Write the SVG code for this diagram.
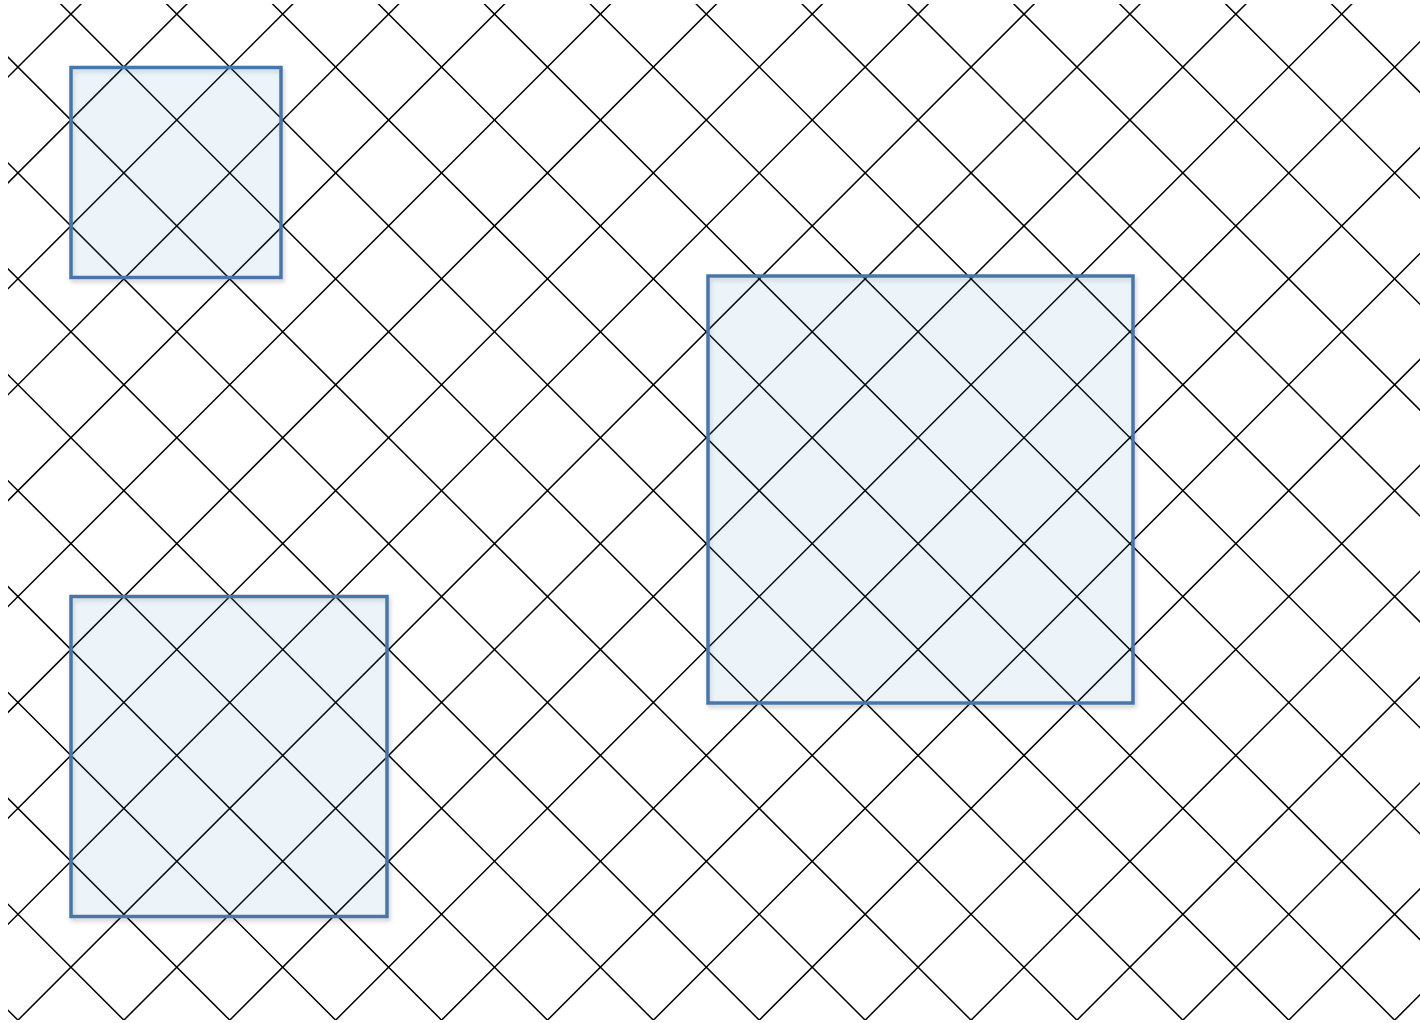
<svg xmlns="http://www.w3.org/2000/svg" width="1420" height="1023" viewBox="0 0 1420 1023">
<style>
.g{fill:none;stroke:#000;stroke-width:1.5}
.box{fill:#3a9ad0;fill-opacity:0.08;stroke:#4a76a8;stroke-width:3.5;filter:url(#sh)}
</style>
<defs>
<clipPath id="clip"><rect x="8" y="4" width="1412" height="1016"/></clipPath>
<filter id="sh" x="-10%" y="-10%" width="130%" height="130%"><feDropShadow dx="1.5" dy="3" stdDeviation="2" flood-color="#000" flood-opacity="0.2"/></filter>
</defs>
<rect width="1420" height="1023" fill="#fff"/>
<g id="connectors" clip-path="url(#clip)">
<path class="g" d="M-1012.2 -10L37.8 1040M-906.3 -10L143.7 1040M-800.4 -10L249.6 1040M-694.5 -10L355.5 1040M-588.6 -10L461.4 1040M-482.7 -10L567.3 1040M-376.8 -10L673.2 1040M-270.9 -10L779.1 1040M-165 -10L885 1040M-59.1 -10L990.9 1040M46.8 -10L1096.8 1040M152.7 -10L1202.7 1040M258.6 -10L1308.6 1040M364.5 -10L1414.5 1040M470.4 -10L1520.4 1040M576.3 -10L1626.3 1040M682.2 -10L1732.2 1040M788.1 -10L1838.1 1040M894 -10L1944 1040M999.9 -10L2049.9 1040M1105.8 -10L2155.8 1040M1211.7 -10L2261.7 1040M1317.6 -10L2367.6 1040"/>
<path class="g" d="M95 -10L-955 1040M200.9 -10L-849.1 1040M306.8 -10L-743.2 1040M412.7 -10L-637.3 1040M518.6 -10L-531.4 1040M624.5 -10L-425.5 1040M730.4 -10L-319.6 1040M836.3 -10L-213.7 1040M942.2 -10L-107.8 1040M1048.1 -10L-1.9 1040M1154 -10L104 1040M1259.9 -10L209.9 1040M1365.8 -10L315.8 1040M1471.7 -10L421.7 1040M1577.6 -10L527.6 1040M1683.5 -10L633.5 1040M1789.4 -10L739.4 1040M1895.3 -10L845.3 1040M2001.2 -10L951.2 1040M2107.1 -10L1057.1 1040M2213 -10L1163 1040M2318.9 -10L1268.9 1040M2424.8 -10L1374.8 1040"/>
</g>
<g id="box1"><rect class="box" x="71" y="67.5" width="210" height="210"/></g>
<g id="box2"><rect class="box" x="71" y="596.5" width="316" height="320"/></g>
<g id="box3"><rect class="box" x="708" y="276" width="425" height="427"/></g>
</svg>
